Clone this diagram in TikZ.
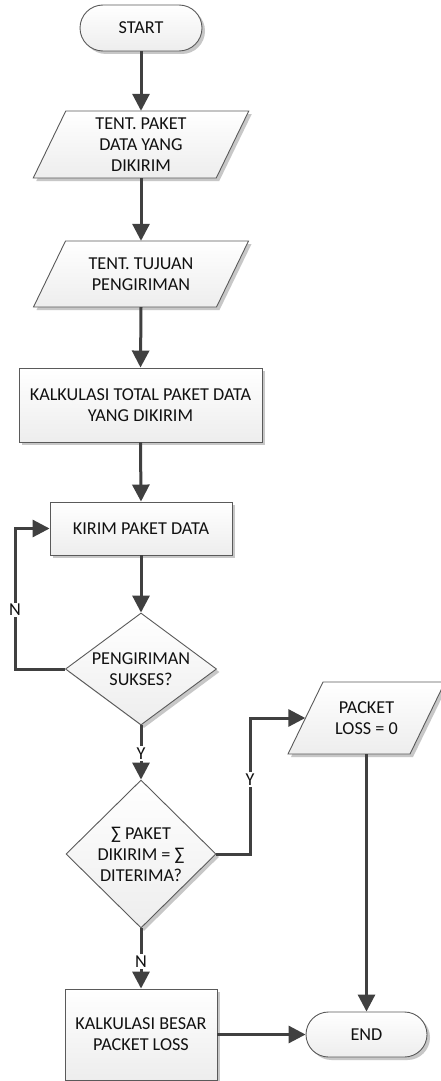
\documentclass[tikz,border=0pt]{standalone}
\usepackage{fontspec}
\setmainfont{Carlito}
\usetikzlibrary{shapes.geometric,shapes.misc,arrows.meta,shadows,calc}
\definecolor{connclr}{HTML}{404040}
\definecolor{bordclr}{HTML}{5A5A5A}
\definecolor{txtclr}{HTML}{111111}
\newcommand{\parashape}[5]{%
  \draw[shapefill] ({#1-#3/2+#5},{#2-#4/2}) -- ({#1+#3/2+#5},{#2-#4/2}) --
    ({#1+#3/2-#5},{#2+#4/2}) -- ({#1-#3/2-#5},{#2+#4/2}) -- cycle;}
\begin{document}
\begin{tikzpicture}[x=1pt,y=-1pt,
  font=\fontsize{18.2}{21}\selectfont, text=txtclr,
  shapefill/.style={draw=bordclr, line width=0.9pt, top color=white, bottom color=gray!14,
    drop shadow={shadow xshift=3pt,shadow yshift=-3pt,fill=black!22,opacity=1}},
  term/.style={shapefill, rounded rectangle, minimum width=122pt, minimum height=46pt, inner sep=0pt},
  proc/.style={shapefill, rectangle, inner sep=0pt, align=center},
  dec/.style={shapefill, diamond, inner sep=0pt, align=center, minimum width=150pt},
  iotext/.style={rectangle, inner sep=0pt, align=center},
  connarrow/.style={draw=connclr, line width=3pt, -{Triangle[length=17pt,width=17pt]}},
  lbl/.style={fill=white, inner sep=1.5pt, text=txtclr}
]
\fill[white] (0,0) rectangle (440,1081);
\useasboundingbox (0,0) rectangle (440,1081);

% parallelogram outlines
\parashape{141}{144.5}{183}{67}{16.25}
\parashape{141}{274}{183}{66}{16}
\parashape{366.5}{718}{122}{72}{17.5}

% nodes
\node[term] (start) at (141,28) {START};
\node[iotext, minimum width=183pt, minimum height=67pt] (p1) at (141,144.5) {TENT. PAKET\\DATA YANG\\DIKIRIM};
\node[iotext, minimum width=183pt, minimum height=66pt] (p2) at (141,274) {TENT. TUJUAN\\PENGIRIMAN};
\node[proc, minimum width=243pt, minimum height=74pt] (calc1) at (140.5,405) {KALKULASI TOTAL PAKET DATA\\YANG DIKIRIM};
\node[proc, minimum width=182pt, minimum height=53pt] (kirim) at (141,528.5) {KIRIM PAKET DATA};
\node[dec, minimum height=112pt, aspect=1.6] (d1) at (141,669) {PENGIRIMAN\\SUKSES?};
\node[dec, minimum height=148pt, aspect=1] (d2) at (141,854) {∑ PAKET\\DIKIRIM = ∑\\DITERIMA?};
\node[iotext, minimum width=122pt, minimum height=72pt] (p3) at (366.5,718) {PACKET\\LOSS = 0};
\node[proc, minimum width=152pt, minimum height=91pt] (calc2) at (141,1034.5) {KALKULASI BESAR\\PACKET LOSS};
\node[term, minimum width=121pt, minimum height=45pt] (end) at (366.5,1034.5) {END};

\coordinate (nbend) at (15,669);
\coordinate (ybend) at (250,854);

% connectors
\draw[connarrow] (start.south) -- (p1.north);
\draw[connarrow] (p1.south) -- (p2.north);
\draw[connarrow] (p2.south) -- (calc1.north);
\draw[connarrow] (calc1.south) -- (kirim.north);
\draw[connarrow] (kirim.south) -- (d1.north);
\draw[connarrow] (d1.west) -- (nbend) |- node[lbl, pos=0.21] {N} (kirim.west);
\draw[connarrow] (d1.south) -- node[lbl, pos=0.52] {Y} (d2.north);
\draw[connarrow] (d2.east) -- (ybend) |- node[lbl, pos=0.275] {Y} (p3.west);
\draw[connarrow] (d2.south) -- node[lbl, pos=0.55] {N} (calc2.north);
\draw[connarrow] (p3.south) -- (end.north);
\draw[connarrow] (calc2.east) -- (end.west);
\end{tikzpicture}
\end{document}
